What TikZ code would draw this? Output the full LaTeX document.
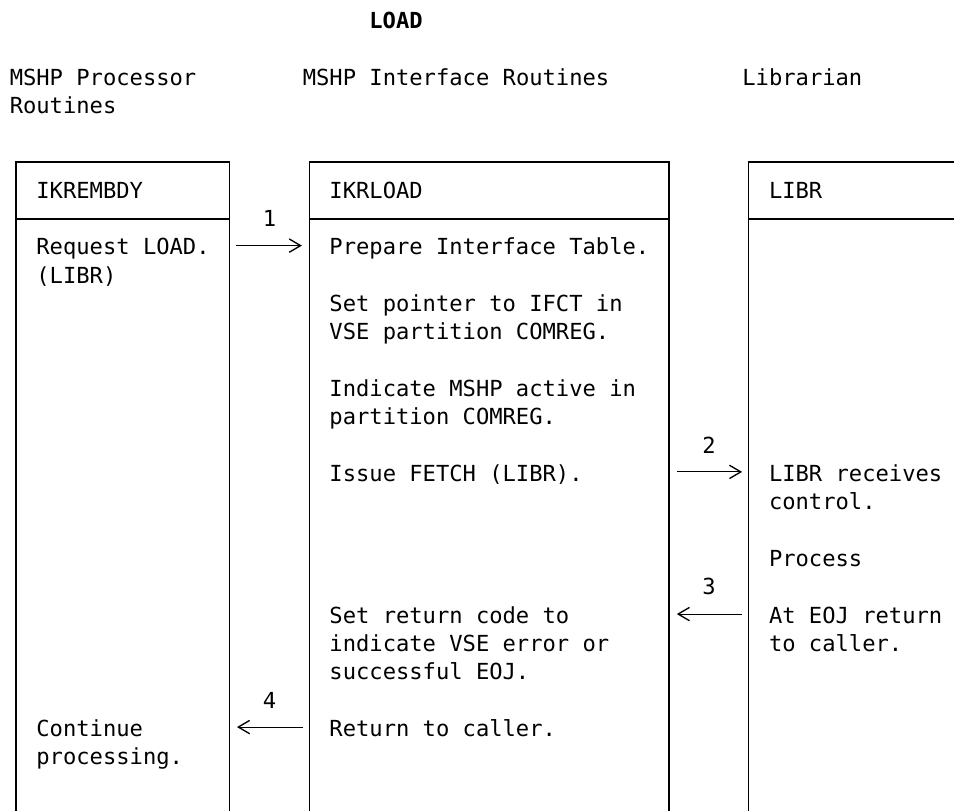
\documentclass[tikz,border=0pt]{standalone}
\usepackage{fontspec}
\setmonofont{DejaVu Sans Mono}
\usetikzlibrary{arrows.meta}

\begin{document}
\begin{tikzpicture}[x=9.99pt, y=-21.24pt,
  mono/.style={anchor=base west, inner sep=0pt, align=left,
    font=\ttfamily\fontsize{16.6}{21.24}\selectfont},
  frame/.style={line width=1pt},
  flow/.style={line width=0.8pt, -{Straight Barb[length=8.5pt,width=10pt,line width=1pt]}}]
% 1 unit in x = one character column, 1 unit in y = one text row (rows grow downwards).
% Multi-line nodes sit on the baseline of their last line.
\useasboundingbox (-0.7132,-1.0028) rectangle (70.908,27.599);
\def\ytop{4.72}
\def\yhead{6.73}
\def\ybot{27.8}
% Title and column headings
\node[mono, font=\ttfamily\bfseries\fontsize{16.6}{21.24}\selectfont] (title) at (27,0) {LOAD};
\node[mono] (hdproc) at (0,3) {MSHP Processor\\Routines};
\node[mono] (hdintf) at (22,2) {MSHP Interface Routines};
\node[mono] (hdlibr) at (55,2) {Librarian};
% Boxes (open at the bottom; the librarian box is cut at the right edge)
\foreach \l/\r in {0.5/16.5, 22.5/49.5} {
  \draw[frame] (\l,\ybot) -- (\l,\ytop) -- (\r,\ytop) -- (\r,\ybot);
  \draw[frame] (\l,\yhead) -- (\r,\yhead);
}
\draw[frame] (71.2,\ytop) -- (55.5,\ytop) -- (55.5,\ybot);
\draw[frame] (55.5,\yhead) -- (71.2,\yhead);
% Box titles
\node[mono] (proc) at (2,6) {IKREMBDY};
\node[mono] (intf) at (24,6) {IKRLOAD};
\node[mono] (libr) at (57,6) {LIBR};
% Processor routine
\node[mono] (request) at (2,9) {Request LOAD.\\(LIBR)};
\node[mono] (continue) at (2,26) {Continue\\processing.};
% Interface routine
\node[mono] (prepare) at (24,8) {Prepare Interface Table.};
\node[mono] (pointer) at (24,11) {Set pointer to IFCT in\\VSE partition COMREG.};
\node[mono] (active) at (24,14) {Indicate MSHP active in\\partition COMREG.};
\node[mono] (fetch) at (24,16) {Issue FETCH (LIBR).};
\node[mono] (retcode) at (24,23) {Set return code to\\indicate VSE error or\\successful EOJ.};
\node[mono] (return) at (24,25) {Return to caller.};
% Librarian
\node[mono] (receive) at (57,17) {LIBR receives\\control.};
\node[mono] (process) at (57,19) {Process};
\node[mono] (eoj) at (57,22) {At EOJ return\\to caller.};
% Arrow ends between the boxes
\coordinate (c1s) at (17,7.67);
\coordinate (c1e) at (21.95,7.67);
\coordinate (c2s) at (50.1,15.66);
\coordinate (c2e) at (55.0,15.66);
\coordinate (c3s) at (55.0,20.68);
\coordinate (c3e) at (50.1,20.68);
\coordinate (c4s) at (22.0,24.67);
\coordinate (c4e) at (17.08,24.67);
\draw[flow] (c1s) -- (c1e);
\draw[flow] (c2s) -- (c2e);
\draw[flow] (c3s) -- (c3e);
\draw[flow] (c4s) -- (c4e);
\node[mono] (n1) at (19,7) {1};
\node[mono] (n2) at (52,15) {2};
\node[mono] (n3) at (52,20) {3};
\node[mono] (n4) at (19,24) {4};
\end{tikzpicture}
\end{document}
